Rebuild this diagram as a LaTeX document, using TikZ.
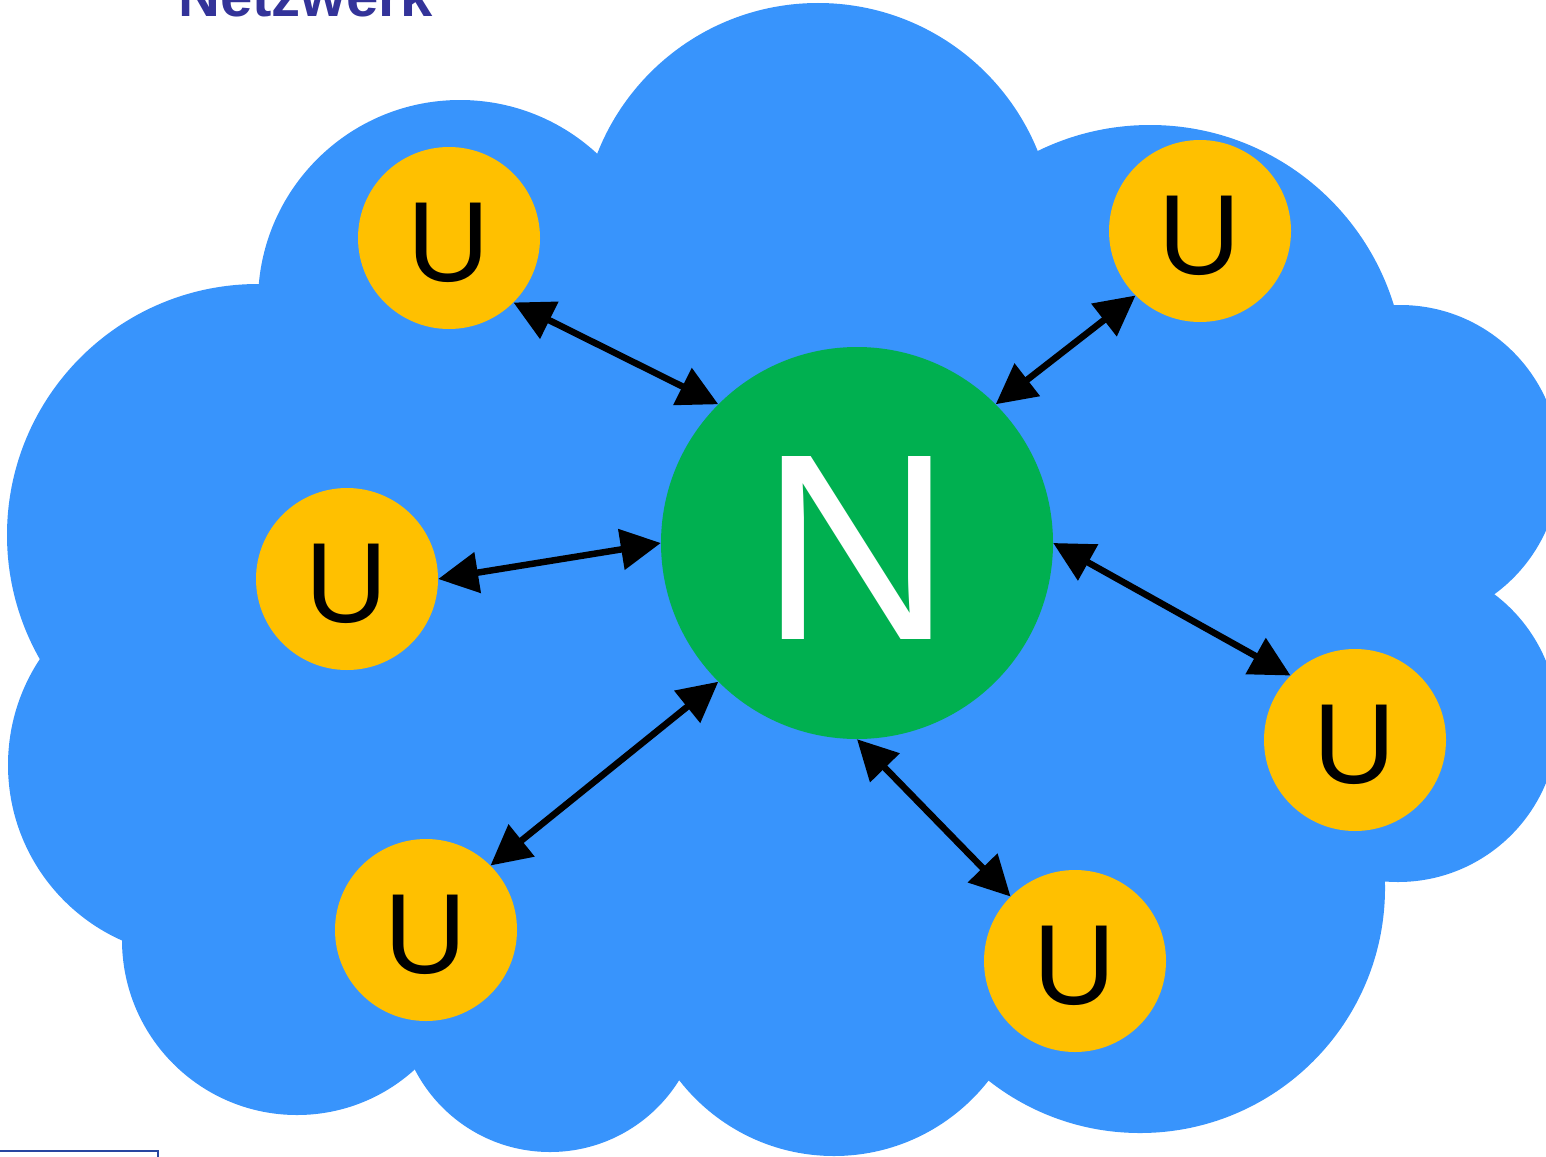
\documentclass[tikz,border=0pt]{standalone}
\usepackage{fontspec}
\setmainfont{Liberation Sans}
\usepackage{tikz}
\usetikzlibrary{arrows.meta}
\definecolor{cloudblue}{RGB}{56,148,252}
\definecolor{hubgreen}{RGB}{0,176,80}
\definecolor{useryellow}{RGB}{255,192,0}
\definecolor{titleblue}{RGB}{51,51,153}
\definecolor{frameblue}{RGB}{40,70,160}

\begin{document}
\begin{tikzpicture}[x = 1pt, y = -1pt,
  user/.style = {circle, fill = useryellow, minimum size = 182pt, inner sep = 0pt, text height = 87pt, text depth = 0pt, font = \fontsize{114}{114}\selectfont},
  hub/.style = {circle, fill = hubgreen, minimum size = 392pt, inner sep = 0pt, text = white, text height = 193pt, text depth = 0pt, font = \fontsize{266}{266}\selectfont},
  link/.style = {line width = 6.5pt, {Triangle[length = 40pt, width = 40pt]}-{Triangle[length = 40pt, width = 40pt]}}]
\useasboundingbox (0,0) rectangle (1546,1156);

\fill [cloudblue] (818,240) -- (460,302) -- (258,535) -- (200,765) -- (297,940) -- (550,1000) -- (834,960) -- (1140,888) -- (1398,722) -- (1400,465) -- (1155,385) -- cycle;
\foreach \cx/\cy/\r in {818/240/237, 460/302/202, 258/535/251, 200/765/192, 297/940/175, 550/1000/152, 834/960/196, 1140/888/245, 1398/722/160, 1400/465/160, 1150/380/255}
  \fill [cloudblue] (\cx,\cy) circle (\r);

\node[anchor = base west, text = titleblue, font = \fontsize{58}{58}\selectfont\bfseries] (title) at (175,17) {Netzwerk};
\draw [frameblue, line width = 2pt] (-10,1151) rectangle (158,1200);

\node[hub] (net) at (857,543) {N};
\node[user] (ua) at (449,238) {U};
\node[user] (ub) at (1200,231) {U};
\node[user] (uc) at (347,579) {U};
\node[user] (ud) at (1355,740) {U};
\node[user] (ue) at (426,930) {U};
\node[user] (uf) at (1075,961) {U};

\draw [link] (ua.315) -- (net.135);
\draw [link] (ub.225) -- (net.45);
\draw [link] (uc.0) -- (net.180);
\draw [link] (ud.135) -- (net.0);
\draw [link] (ue.45) -- (net.225);
\draw [link] (uf.135) -- (net.270);
\end{tikzpicture}
\end{document}
